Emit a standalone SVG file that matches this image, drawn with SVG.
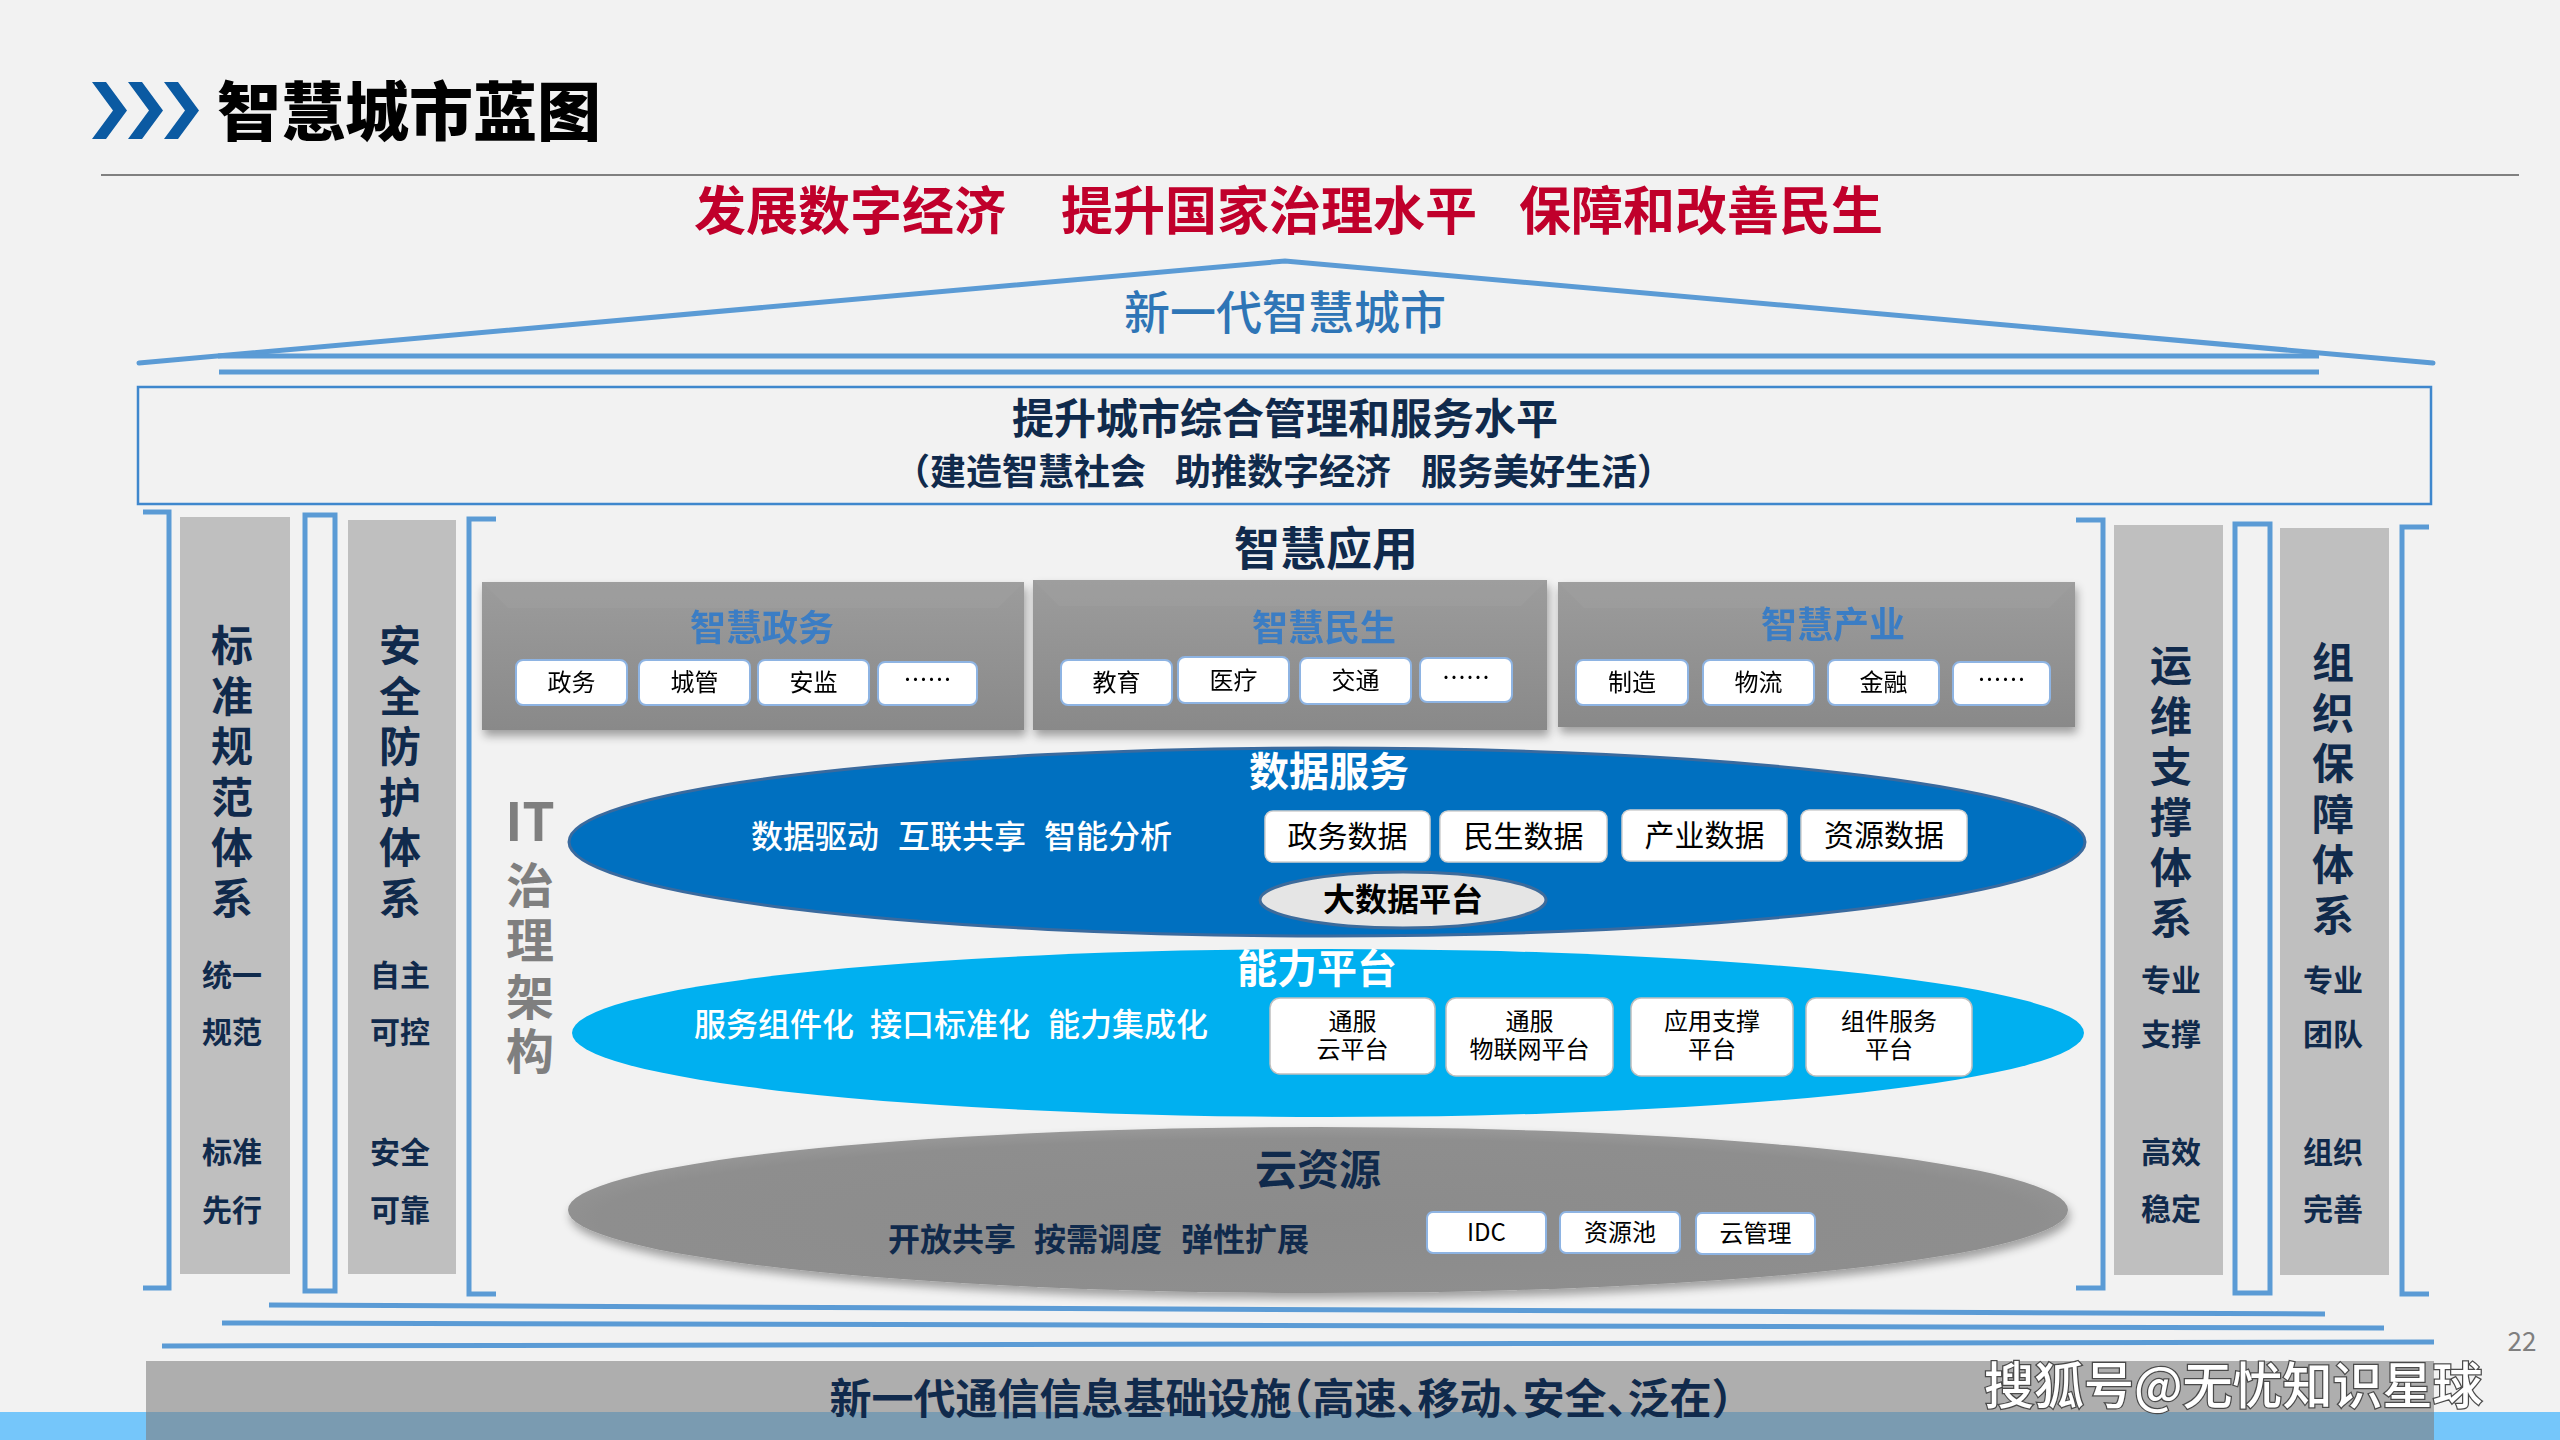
<svg xmlns="http://www.w3.org/2000/svg" width="2560" height="1440" viewBox="0 0 2560 1440">
<defs>
<style>
text{font-family:"Noto Sans CJK SC","Liberation Sans",sans-serif}
.navy{fill:#102A4C;font-weight:700}
.halt{font-feature-settings:"halt" 1}
.vt{font-size:42px;text-anchor:middle}
.sub{font-size:30px;text-anchor:middle}
.blue{stroke:#5B9BD5;stroke-width:5;fill:none}
.col{fill:#BFBFBF}
.sb{fill:#FFFFFF;stroke:#8EB4E3;stroke-width:2}
.sbt{font-size:24px;text-anchor:middle;fill:#000}
.apt{font-size:36px;font-weight:700;fill:#3B7DC4;text-anchor:middle}
.db{fill:#FFFFFF;stroke:#D0D0D0;stroke-width:1.5}
.pb{fill:#FFFFFF;stroke:#BFBFBF;stroke-width:1.5}
.wt{fill:#FFFFFF;font-size:32px;font-weight:500}
</style>
<linearGradient id="appg" x1="0" y1="0" x2="0" y2="1">
<stop offset="0" stop-color="#9C9C9C"/><stop offset="1" stop-color="#898989"/>
</linearGradient>
<radialGradient id="cloudg" cx="0.5" cy="0.55" r="0.6">
<stop offset="0" stop-color="#8B8B8B"/><stop offset="0.8" stop-color="#8E8E8E"/><stop offset="1" stop-color="#A0A0A0"/>
</radialGradient>
<filter id="sh" x="-5%" y="-20%" width="110%" height="150%">
<feGaussianBlur in="SourceAlpha" stdDeviation="5"/>
<feOffset dx="2" dy="6" result="b"/>
<feComponentTransfer><feFuncA type="linear" slope="0.35"/></feComponentTransfer>
<feMerge><feMergeNode/><feMergeNode in="SourceGraphic"/></feMerge>
</filter>
</defs>
<rect width="2560" height="1440" fill="#F2F2F2"/>

<g id="header">
<polygon points="92,82 106,82 127,110.5 106,139 92,139 113,110.5" fill="#0B5AA2"/>
<polygon points="128,82 142,82 163,110.5 142,139 128,139 149,110.5" fill="#0B5AA2"/>
<polygon points="164,82 178,82 199,110.5 178,139 164,139 185,110.5" fill="#0B5AA2"/>
<text x="217" y="135" font-size="64" font-weight="900" fill="#000">智慧城市蓝图</text>
<line x1="101" y1="175" x2="2519" y2="175" stroke="#808080" stroke-width="2"/>
</g>

<g id="goals" font-size="52" font-weight="700" fill="#C0002B">
<text x="694" y="230">发展数字经济</text>
<text x="1061" y="230">提升国家治理水平</text>
<text x="1519" y="230">保障和改善民生</text>
</g>

<g id="connectors">
<path class="blue" d="M139,363 L1285,261 L2433,363" stroke-width="6" stroke-linecap="round"/>
<path class="blue" d="M218,356 H2319 M219,372 H2319"/>
<path class="blue" d="M269,1305 L2325,1314 M222,1323 L2384,1328 M162,1346 L2434,1342"/>
<path class="blue" d="M143,512 H169 V1288 H143"/>
<rect class="blue" x="305" y="515" width="30" height="776"/>
<path class="blue" d="M496,519 H469 V1294 H496"/>
<path class="blue" d="M2076,520 H2103 V1288 H2076"/>
<rect class="blue" x="2235" y="524" width="35" height="769"/>
<path class="blue" d="M2429,527 H2402 V1294 H2429"/>
</g>

<g id="roof-title">
<text x="1285" y="329" font-size="46" font-weight="500" fill="#2E75B6" text-anchor="middle">新一代智慧城市</text>
</g>

<g id="top-box">
<rect x="138" y="387" width="2293" height="117" fill="none" stroke="#3F87CD" stroke-width="2.5"/>
<text class="navy" x="1285" y="434" font-size="42" text-anchor="middle">提升城市综合管理和服务水平</text>
<g class="navy halt" font-size="36">
<text x="912" y="485">（建造智慧社会</text>
<text x="1175" y="485">助推数字经济</text>
<text x="1421" y="485">服务美好生活）</text>
</g>
</g>

<g id="col-standard">
<rect class="col" x="180" y="517" width="110" height="757"/>
<text class="navy vt"><tspan x="232" y="661">标</tspan><tspan x="232" y="711.5">准</tspan><tspan x="232" y="762">规</tspan><tspan x="232" y="812.5">范</tspan><tspan x="232" y="863">体</tspan><tspan x="232" y="913.5">系</tspan></text>
<text class="navy sub"><tspan x="232" y="986">统一</tspan><tspan x="232" y="1043">规范</tspan><tspan x="232" y="1163">标准</tspan><tspan x="232" y="1221">先行</tspan></text>
</g>

<g id="col-security">
<rect class="col" x="348" y="520" width="108" height="754"/>
<text class="navy vt"><tspan x="400" y="661">安</tspan><tspan x="400" y="711.5">全</tspan><tspan x="400" y="762">防</tspan><tspan x="400" y="812.5">护</tspan><tspan x="400" y="863">体</tspan><tspan x="400" y="913.5">系</tspan></text>
<text class="navy sub"><tspan x="400" y="986">自主</tspan><tspan x="400" y="1043">可控</tspan><tspan x="400" y="1163">安全</tspan><tspan x="400" y="1221">可靠</tspan></text>
</g>

<g id="col-ops">
<rect class="col" x="2114" y="525" width="109" height="750"/>
<text class="navy vt"><tspan x="2171" y="681">运</tspan><tspan x="2171" y="731.5">维</tspan><tspan x="2171" y="782">支</tspan><tspan x="2171" y="832.5">撑</tspan><tspan x="2171" y="883">体</tspan><tspan x="2171" y="933.5">系</tspan></text>
<text class="navy sub"><tspan x="2171" y="991">专业</tspan><tspan x="2171" y="1045">支撑</tspan><tspan x="2171" y="1163">高效</tspan><tspan x="2171" y="1220">稳定</tspan></text>
</g>

<g id="col-org">
<rect class="col" x="2280" y="528" width="109" height="747"/>
<text class="navy vt"><tspan x="2333" y="678">组</tspan><tspan x="2333" y="728.5">织</tspan><tspan x="2333" y="779">保</tspan><tspan x="2333" y="829.5">障</tspan><tspan x="2333" y="880">体</tspan><tspan x="2333" y="930.5">系</tspan></text>
<text class="navy sub"><tspan x="2333" y="991">专业</tspan><tspan x="2333" y="1045">团队</tspan><tspan x="2333" y="1163">组织</tspan><tspan x="2333" y="1220">完善</tspan></text>
</g>

<g id="it-governance" fill="#7F7F7F" font-weight="700" text-anchor="middle">
<text x="530" y="841" font-size="52" font-family="Liberation Sans, sans-serif">IT</text>
<text font-size="48"><tspan x="530" y="903">治</tspan><tspan x="530" y="958">理</tspan><tspan x="530" y="1015">架</tspan><tspan x="530" y="1069">构</tspan></text>
</g>

<g id="smart-apps">
<text class="navy" x="1326" y="565" font-size="46" text-anchor="middle">智慧应用</text>
</g>

<g id="app-gov" filter="url(#sh)">
<rect x="482" y="582" width="542" height="148" fill="url(#appg)"/>
<polygon points="482,582 1024,582 998,608 508,608" fill="#A0A0A0" opacity="0.5"/>
<text class="apt" x="762" y="641">智慧政务</text>
<rect class="sb" x="516" y="660" width="111" height="45" rx="7"/><text class="sbt" x="571.5" y="691">政务</text>
<rect class="sb" x="639" y="660" width="111" height="45" rx="7"/><text class="sbt" x="694.5" y="691">城管</text>
<rect class="sb" x="758" y="660" width="111" height="45" rx="7"/><text class="sbt" x="813.5" y="691">安监</text>
<rect class="sb" x="878" y="662" width="99" height="43" rx="7"/><text class="sbt" x="927.5" y="688">……</text>
</g>

<g id="app-live" filter="url(#sh)">
<rect x="1033" y="580" width="514" height="150" fill="url(#appg)"/>
<polygon points="1033,580 1547,580 1521,606 1059,606" fill="#A0A0A0" opacity="0.5"/>
<text class="apt" x="1324" y="641">智慧民生</text>
<rect class="sb" x="1061" y="660" width="111" height="45" rx="7"/><text class="sbt" x="1116.5" y="691">教育</text>
<rect class="sb" x="1178" y="657" width="111" height="46" rx="7"/><text class="sbt" x="1233.5" y="689">医疗</text>
<rect class="sb" x="1300" y="658" width="111" height="46" rx="7"/><text class="sbt" x="1355.5" y="689">交通</text>
<rect class="sb" x="1420" y="658" width="92" height="44" rx="7"/><text class="sbt" x="1466" y="686">……</text>
</g>

<g id="app-industry" filter="url(#sh)">
<rect x="1558" y="582" width="517" height="145" fill="url(#appg)"/>
<polygon points="1558,582 2075,582 2049,608 1584,608" fill="#A0A0A0" opacity="0.5"/>
<text class="apt" x="1833" y="638">智慧产业</text>
<rect class="sb" x="1576" y="660" width="112" height="45" rx="7"/><text class="sbt" x="1632" y="691">制造</text>
<rect class="sb" x="1703" y="660" width="111" height="45" rx="7"/><text class="sbt" x="1758.5" y="691">物流</text>
<rect class="sb" x="1828" y="660" width="111" height="45" rx="7"/><text class="sbt" x="1883.5" y="691">金融</text>
<rect class="sb" x="1953" y="662" width="97" height="43" rx="7"/><text class="sbt" x="2001.5" y="688">……</text>
</g>

<g id="data-service">
<ellipse cx="1327" cy="842" rx="758" ry="94" fill="#0070C0" stroke="#3A6A9E" stroke-width="3"/>
<text x="1329" y="786" font-size="40" font-weight="700" fill="#FFFFFF" text-anchor="middle">数据服务</text>
<text class="wt" x="751" y="848">数据驱动</text>
<text class="wt" x="898" y="848">互联共享</text>
<text class="wt" x="1044" y="848">智能分析</text>
<rect class="db" x="1265" y="811" width="165" height="51" rx="8"/><text x="1347.5" y="847" font-size="30" text-anchor="middle">政务数据</text>
<rect class="db" x="1440" y="811" width="167" height="51" rx="8"/><text x="1523.5" y="847" font-size="30" text-anchor="middle">民生数据</text>
<rect class="db" x="1622" y="810" width="165" height="51" rx="8"/><text x="1704.5" y="846" font-size="30" text-anchor="middle">产业数据</text>
<rect class="db" x="1801" y="810" width="166" height="51" rx="8"/><text x="1884" y="846" font-size="30" text-anchor="middle">资源数据</text>
<ellipse cx="1403" cy="900" rx="143" ry="28" fill="#E5E5E5" stroke="#3D6B9B" stroke-width="3"/>
<text x="1403" y="911" font-size="32" font-weight="700" fill="#000" text-anchor="middle">大数据平台</text>
</g>

<g id="capability-platform">
<ellipse cx="1328" cy="1033" rx="756" ry="84" fill="#00B0F0"/>
<text x="1317" y="983" font-size="40" font-weight="700" fill="#FFFFFF" text-anchor="middle">能力平台</text>
<text class="wt" x="694" y="1036">服务组件化</text>
<text class="wt" x="870" y="1036">接口标准化</text>
<text class="wt" x="1048" y="1036">能力集成化</text>
<rect class="pb" x="1270" y="998" width="165" height="76" rx="10"/>
<text class="sbt"><tspan x="1352.5" y="1030">通服</tspan><tspan x="1352.5" y="1058">云平台</tspan></text>
<rect class="pb" x="1446" y="998" width="167" height="78" rx="10"/>
<text class="sbt"><tspan x="1529.5" y="1030">通服</tspan><tspan x="1529.5" y="1058">物联网平台</tspan></text>
<rect class="pb" x="1631" y="998" width="162" height="78" rx="10"/>
<text class="sbt"><tspan x="1712" y="1030">应用支撑</tspan><tspan x="1712" y="1058">平台</tspan></text>
<rect class="pb" x="1806" y="998" width="166" height="78" rx="10"/>
<text class="sbt"><tspan x="1889" y="1030">组件服务</tspan><tspan x="1889" y="1058">平台</tspan></text>
</g>

<g id="cloud-resources">
<ellipse cx="1318" cy="1210" rx="750" ry="83" fill="url(#cloudg)" filter="url(#sh)"/>
<text class="navy" x="1318" y="1185" font-size="42" text-anchor="middle">云资源</text>
<text class="navy" x="888" y="1251" font-size="32">开放共享</text>
<text class="navy" x="1034" y="1251" font-size="32">按需调度</text>
<text class="navy" x="1181" y="1251" font-size="32">弹性扩展</text>
<rect class="sb" x="1427" y="1212" width="119" height="41" rx="6"/><text class="sbt" x="1486.5" y="1241">IDC</text>
<rect class="sb" x="1560" y="1212" width="120" height="41" rx="6"/><text class="sbt" x="1620" y="1241">资源池</text>
<rect class="sb" x="1696" y="1213" width="119" height="41" rx="6"/><text class="sbt" x="1755.5" y="1242">云管理</text>
</g>

<g id="infrastructure">
<rect x="0" y="1412" width="2560" height="28" fill="#75C6FA"/>
<rect x="146" y="1361" width="2288" height="79" fill="#7D7D7D" opacity="0.59"/>
<text class="navy halt" x="1281" y="1414" font-size="42" text-anchor="middle">新一代通信信息基础设施（高速、移动、安全、泛在）</text>
</g>

<g id="footer">
<text x="2522" y="1351" font-size="26" fill="#7F7F7F" text-anchor="middle" font-family="Liberation Sans, sans-serif">22</text>
<text x="1984" y="1404" font-size="50" font-weight="500" fill="#FFFFFF" stroke="#4A4A4A" stroke-width="2.5" paint-order="stroke">搜狐号@无忧知识星球</text>
</g>
</svg>
